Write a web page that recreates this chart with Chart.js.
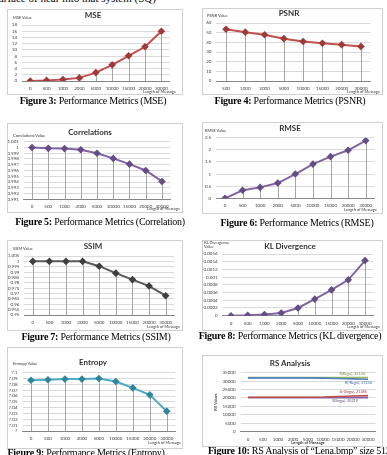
<!DOCTYPE html>
<html>
<head>
<meta charset="utf-8">
<script src="https://cdn.jsdelivr.net/npm/chart.js@4.4.1/dist/chart.umd.min.js"></script>
<style>
html, body { margin: 0; padding: 0; background: #fff; }
body { position: relative; width: 387px; height: 455px; overflow: hidden; }
canvas { position: absolute; }
.frame { position: absolute; border: 1px solid #d0d0d0; box-sizing: border-box; pointer-events: none; }
.ttl { position: absolute; font: bold 8px Lato, sans-serif; color: #333; white-space: nowrap; transform: translate(-50%, -50%); }
.small { position: absolute; font: 4px Lato, sans-serif; color: #333; white-space: nowrap; line-height: 4px; }
.cap { position: absolute; font: 10px "Liberation Serif", serif; color: #000; white-space: nowrap; transform: translate(-50%, -50%); letter-spacing: -0.25px; }
.top { position: absolute; left: -6px; top: -8px; font: 11px "Liberation Serif", serif; white-space: nowrap; }
</style>
</head>
<body>
<div class="top">surface of near into that system (SQ)</div>
<script>
// categories (length of message)
const lengthsAll = ['0', '500', '1000', '2000', '5000', '10000', '15000', '20000', '30000'];
const lengthsPsnr = ['500', '1000', '2000', '5000', '10000', '15000', '20000', '30000'];

// series values
const mseVals = [0, 0.2, 0.5, 1.0, 2.7, 5.2, 8.1, 11, 16];
const psnrVals = [53.5, 50.5, 47.8, 43.8, 40.8, 39.0, 37.6, 35.8];
const corrVals = [1.0, 0.99985, 0.9998, 0.9996, 0.999, 0.9981, 0.9971, 0.996, 0.9941];
const rmseVals = [0, 0.33, 0.45, 0.63, 1.0, 1.41, 1.72, 1.98, 2.38];
const ssimVals = [1, 1, 1, 1, 0.9955, 0.989, 0.983, 0.977, 0.968];
const klVals = [0, 0.00001, 0.00003, 0.00007, 0.0002, 0.00043, 0.00067, 0.00093, 0.00143];
const entropyVals = [7.087, 7.088, 7.089, 7.089, 7.09, 7.085, 7.074, 7.062, 7.034];

// RS analysis
const rsNames = ['R(-Regu)', 'S(-Singu)', 'R(Regu)', 'S(Singu)'];
const rsBlue = [31950, 31950, 31950, 31950, 31950, 31800, 31550, 31350, 31134];
const rsRed = [20450, 20450, 20450, 20450, 20450, 20550, 20850, 21150, 21385];
const rsGreen = [32134, 32134, 32134, 32134, 32134, 32134, 32134, 32134, 32134];
const rsPurple = [20219, 20219, 20219, 20219, 20219, 20219, 20219, 20219, 20219];

// y axis ranges: [min, max, step]
const mseAxis = [0, 18, 2];
const psnrAxis = [0, 60, 10];
const corrAxis = [0.991, 1.001, 0.001];
const rmseAxis = [0, 2.5, 0.5];
const ssimAxis = [0.95, 1.005, 0.005];
const klAxis = [0, 0.0016, 0.0002];
const entropyAxis = [7, 7.1, 0.01];
const rsAxis = [0, 35000, 5000];

// layout of every panel, in page pixels
const panels = [
  {title: 'MSE', yName: 'MSE Value', labels: lengthsAll, values: mseVals, axis: mseAxis, color: '#c0504d', mark: '#9e3b38',
   box: [7, 9, 183, 95], area: [22, 25, 169.6, 81], titleAt: [93, 15], yNameAt: [13, 18], xNameRight: 176, xNameY: 92,
   cap: ['Figure 3:', ' Performance Metrics (MSE)'], capAt: [93, 100]},
  {title: 'PSNR', yName: 'PSNR Value', labels: lengthsPsnr, values: psnrVals, axis: psnrAxis, color: '#c0504d', mark: '#9e3b38',
   box: [202, 8, 383, 95], area: [216.4, 23, 370.6, 81], titleAt: [289, 13], yNameAt: [207, 16], xNameRight: 380, xNameY: 92,
   cap: ['Figure 4:', ' Performance Metrics (PSNR)'], capAt: [290, 100]},
  {title: 'Correlations', yName: 'Correlations Value', labels: lengthsAll, values: corrVals, axis: corrAxis, color: '#8064a2', mark: '#654d86',
   box: [7, 123, 183, 213], area: [23.9, 141.7, 170.1, 199.3], titleAt: [90, 132], yNameAt: [13, 136], xNameRight: 180, xNameY: 209,
   cap: ['Figure 5:', ' Performance Metrics (Correlation)'], capAt: [100, 221]},
  {title: 'RMSE', yName: 'RMSE Value', labels: lengthsAll, values: rmseVals, axis: rmseAxis, color: '#8064a2', mark: '#654d86',
   box: [202, 122, 383, 214], area: [216.2, 137.7, 374.5, 198.3], titleAt: [290, 128], yNameAt: [205, 131], xNameRight: 377, xNameY: 210,
   cap: ['Figure 6:', ' Performance Metrics (RMSE)'], capAt: [297, 222]},
  {title: 'SSIM', yName: 'SSIM Value', labels: lengthsAll, values: ssimVals, axis: ssimAxis, color: '#595959', mark: '#3f3f3f',
   box: [7, 240, 183, 331], area: [24.4, 256, 174, 315], titleAt: [93, 246], yNameAt: [13, 249], xNameRight: 180, xNameY: 327,
   cap: ['Figure 7:', ' Performance Metrics (SSIM)'], capAt: [96, 336]},
  {title: 'KL Divergence', yName: 'KL Divergence<br>Value', labels: lengthsAll, values: klVals, axis: klAxis, color: '#8064a2', mark: '#654d86',
   box: [202, 240, 383, 331], area: [222.6, 254, 373.4, 315.7], titleAt: [290, 246], yNameAt: [204, 243], xNameRight: 380, xNameY: 327,
   cap: ['Figure 8:', ' Performance Metrics (KL divergence)'], capAt: [290, 335]},
  {title: 'Entropy', yName: 'Entropy Value', labels: lengthsAll, values: entropyVals, axis: entropyAxis, color: '#4bacc6', mark: '#31859c',
   box: [7, 347, 183, 449], area: [22.5, 372.7, 175.2, 431], titleAt: [93, 362], yNameAt: [13, 364], xNameRight: 181, xNameY: 443,
   cap: ['Figure 9:', ' Performance Metrics (Entropy)'], capAt: [86, 452]}
];

const tickFont = {family: 'Lato', size: 4.5};

function fmt(v) { return String(+Number(v).toFixed(6)); }

// Excel-style drop lines from each point down to the category axis
const dropLines = {
  id: 'dropLines',
  beforeDatasetsDraw(chart) {
    const ctx = chart.ctx;
    const bottom = chart.chartArea.bottom;
    ctx.save();
    ctx.strokeStyle = '#a6a6a6';
    ctx.lineWidth = 1;
    chart.getDatasetMeta(0).data.forEach(p => {
      const x = Math.round(p.x) + 0.5;
      ctx.beginPath();
      ctx.moveTo(x, p.y);
      ctx.lineTo(x, bottom);
      ctx.stroke();
    });
    ctx.restore();
  }
};

function addDiv(cls, html, x, y) {
  const d = document.createElement('div');
  d.className = cls;
  d.innerHTML = html;
  d.style.left = x + 'px';
  d.style.top = y + 'px';
  document.body.appendChild(d);
  return d;
}

function makeCanvas(box) {
  const [l, t, r, b] = box;
  const c = document.createElement('canvas');
  c.width = r - l; c.height = b - t;
  c.style.left = l + 'px'; c.style.top = t + 'px';
  document.body.appendChild(c);
  const f = document.createElement('div');
  f.className = 'frame';
  f.style.left = l + 'px'; f.style.top = t + 'px';
  f.style.width = (r - l) + 'px'; f.style.height = (b - t) + 'px';
  document.body.appendChild(f);
  return c;
}

function scalesFor(box, area, axis) {
  const [l, t, r, b] = box;
  return {
    x: {
      offset: true,
      grid: {display: false, drawTicks: false},
      border: {color: '#868686'},
      ticks: {font: tickFont, color: '#404040', maxRotation: 0, autoSkip: false, padding: 5},
      afterFit: s => { s.height = b - area[3]; }
    },
    y: {
      min: axis[0], max: axis[1],
      grid: {color: '#d9d9d9', drawTicks: false},
      border: {display: false},
      ticks: {stepSize: axis[2], autoSkip: false, maxTicksLimit: 20, font: tickFont, color: '#404040', padding: 5, callback: fmt},
      afterFit: s => { s.width = area[0] - l; }
    }
  };
}

panels.forEach(p => {
  const [l, t, r, b] = p.box;
  const c = makeCanvas(p.box);
  new Chart(c, {
    type: 'line',
    data: {
      labels: p.labels,
      datasets: [{
        data: p.values,
        borderColor: p.color,
        backgroundColor: p.mark,
        borderWidth: 2,
        pointStyle: 'rectRot',
        pointRadius: 2.4,
        pointBorderColor: p.mark,
        pointBackgroundColor: p.mark,
        tension: 0
      }]
    },
    options: {
      responsive: false, animation: false, devicePixelRatio: 1,
      layout: {padding: {top: p.area[1] - t, right: r - p.area[2], bottom: 0, left: 0}},
      plugins: {legend: {display: false}, tooltip: {enabled: false}},
      scales: scalesFor(p.box, p.area, p.axis)
    },
    plugins: [dropLines]
  });
  addDiv('ttl', p.title, p.titleAt[0], p.titleAt[1]);
  addDiv('small', p.yName, p.yNameAt[0], p.yNameAt[1] - 2);
  const xn = addDiv('small', 'Length of Message', 0, p.xNameY - 2);
  xn.style.left = ''; xn.style.right = (387 - p.xNameRight) + 'px';
  addDiv('cap', '<b>' + p.cap[0] + '</b>' + p.cap[1], p.capAt[0], p.capAt[1]);
});

// RS analysis panel
const rsBox = [202, 355, 383, 447];
const rsArea = [240.5, 372.7, 375.5, 431.7];
const rsLabelOffsets = [[4, 3.2], [-1, -3.5], [-3, -3.4], [-10, 3]];
const rsLabelColors = ['#3d6a9e', '#9e3b38', '#76933c', '#5f4a7b'];

const rsLabels = {
  id: 'rsLabels',
  afterDatasetsDraw(chart) {
    const ctx = chart.ctx;
    ctx.save();
    ctx.font = '3.8px Lato';
    ctx.textAlign = 'right';
    ctx.textBaseline = 'middle';
    chart.data.datasets.forEach((ds, i) => {
      const pts = chart.getDatasetMeta(i).data;
      const p = pts[pts.length - 1];
      ctx.fillStyle = rsLabelColors[i];
      ctx.fillText(ds.label + ', ' + ds.data[ds.data.length - 1], p.x + rsLabelOffsets[i][0], p.y + rsLabelOffsets[i][1]);
    });
    ctx.restore();
  }
};

const rsCanvas = makeCanvas(rsBox);
const rsLine = (name, vals, col) => ({label: name, data: vals, borderColor: col, backgroundColor: col, borderWidth: 1.6, pointRadius: 0, tension: 0});
new Chart(rsCanvas, {
  type: 'line',
  data: {
    labels: lengthsAll,
    datasets: [
      rsLine(rsNames[0], rsBlue, '#4f81bd'),
      rsLine(rsNames[1], rsRed, '#c0504d'),
      rsLine(rsNames[2], rsGreen, '#9bbb59'),
      rsLine(rsNames[3], rsPurple, '#8064a2')
    ]
  },
  options: {
    responsive: false, animation: false, devicePixelRatio: 1,
    layout: {padding: {top: rsArea[1] - rsBox[1], right: rsBox[2] - rsArea[2], bottom: 0, left: 0}},
    plugins: {legend: {display: false}, tooltip: {enabled: false}},
    scales: scalesFor(rsBox, rsArea, rsAxis)
  },
  plugins: [rsLabels]
});
addDiv('ttl', 'RS Analysis', 290, 363);
const rv = addDiv('small', '<b>RS Values</b>', 216, 402);
rv.style.transform = 'translate(-50%, -50%) rotate(-90deg)';
const rl = addDiv('small', '<b>Length of Message</b>', 308, 443);
rl.style.transform = 'translate(-50%, -50%)';
addDiv('cap', '<b>Figure 10:</b> RS Analysis of \u201cLena.bmp\u201d size 512', 208, 450).style.transform = 'translate(0, -50%)';
</script>
</body>
</html>
